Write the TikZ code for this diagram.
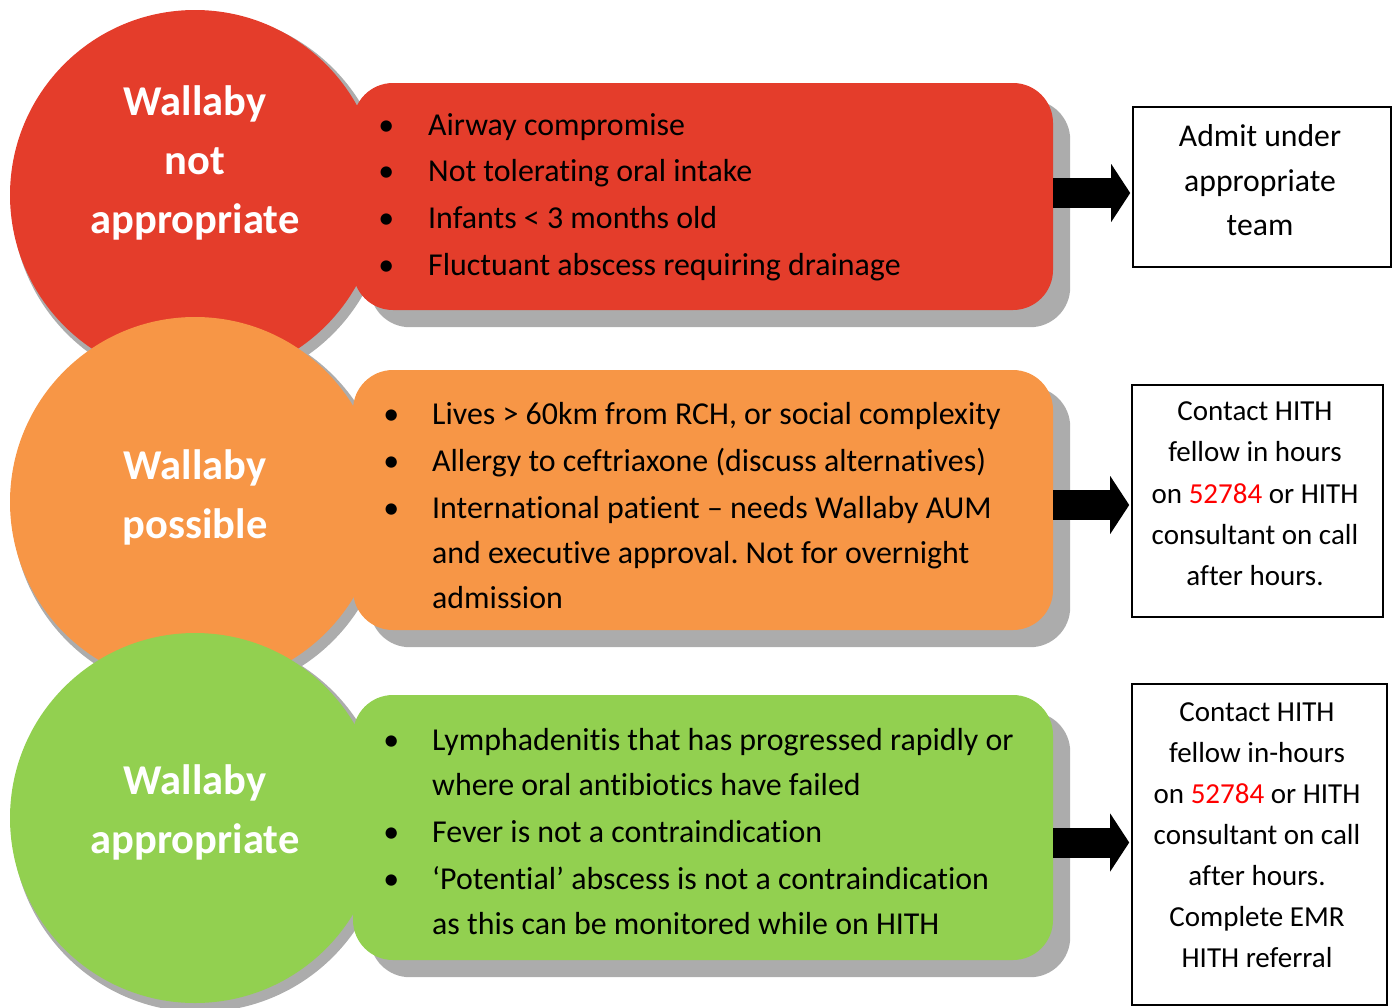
\documentclass[tikz,border=0pt]{standalone}
\usepackage{fontspec}
\setmainfont{Carlito}[Ligatures=NoCommon]
\frenchspacing
\usetikzlibrary{arrows.meta,backgrounds}
\definecolor{cred}{HTML}{E43D2B}
\definecolor{corange}{HTML}{F79646}
\definecolor{cgreen}{HTML}{92D050}
\definecolor{cshadow}{HTML}{ACACAC}
\definecolor{numred}{HTML}{FF0000}
\newcommand{\bulitem}[1]{\makebox[#1]{•}}
\begin{document}
\begin{tikzpicture}[x=1pt,y=-1pt,
  disc/.style={circle, inner sep=0pt, minimum size=370pt},
  panel/.style={rectangle, rounded corners=40pt, inner sep=0pt, minimum width=700pt},
  outbox/.style={draw=black, line width=1.6pt, inner sep=0pt},
  shad/.style={fill=cshadow},
  ttl/.style={inner sep=0pt, anchor=north, text=white, font=\fontsize{42.5}{59}\selectfont\bfseries},
  boxtxt/.style={inner sep=0pt, anchor=north},
  listtxt/.style={inner sep=0pt, anchor=north west, font=\fontsize{31.9}{45}\selectfont},
  bigarrow/.style={line width=30pt, -{Triangle[length=19pt,width=58pt,line width=0pt]}, shorten >=2pt}
]
\useasboundingbox (0,0) rectangle (1394,1007);

% circles and panels
\node[disc, fill=cred] (rc) at (195,195) {};
\node[panel, fill=cred, minimum height=227pt] (rp) at (703,196.5) {};
\node[disc, fill=corange] (oc) at (195,502) {};
\node[panel, fill=corange, minimum height=260pt] (op) at (703,500) {};
\node[disc, fill=cgreen] (gc) at (195,818) {};
\node[panel, fill=cgreen, minimum height=265pt] (gp) at (703,827.5) {};

\begin{scope}[on background layer]
  \foreach \c in {rc,oc,gc}
    \fill[shad] ([shift={(5,6)}]\c.center) circle[radius=188pt];
  \foreach \p in {rp,op,gp}
    \fill[shad, rounded corners=40pt] ([shift={(17,17)}]\p.north west) rectangle ([shift={(17,17)}]\p.south east);
\end{scope}

% titles
\node[ttl] (rt) at (195,73.7) {\begin{tabular}{@{}c@{}}Wallaby\\ not\\ appropriate\end{tabular}};
\node[ttl] (ot) at (195,437.7) {\begin{tabular}{@{}c@{}}Wallaby\\ possible\end{tabular}};
\node[ttl] (gt) at (195,752.7) {\begin{tabular}{@{}c@{}}Wallaby\\ appropriate\end{tabular}};

% lists
\node[listtxt] (rl) at (344,103.5) {\begin{tabular}{@{}c@{}l@{}}
\bulitem{84pt} & Airway compromise\\[1.7pt]
\bulitem{84pt} & Not tolerating oral intake\\[1.7pt]
\bulitem{84pt} & Infants < 3 months old\\[1.7pt]
\bulitem{84pt} & Fluctuant abscess requiring drainage
\end{tabular}};
\node[listtxt] (ol) at (350,392.5) {\begin{tabular}{@{}c@{}l@{}}
\bulitem{82pt} & Lives > 60km from RCH, or social complexity\\[2pt]
\bulitem{82pt} & Allergy to ceftriaxone (discuss alternatives)\\[2pt]
\bulitem{82pt} & International patient – needs Wallaby AUM\\
 & and executive approval. Not for overnight\\
 & admission
\end{tabular}};
\node[listtxt] (gl) at (350,718.5) {\begin{tabular}{@{}c@{}l@{}}
\bulitem{82pt} & Lymphadenitis that has progressed rapidly or\\
 & where oral antibiotics have failed\\[2pt]
\bulitem{82pt} & Fever is not a contraindication\\[2pt]
\bulitem{82pt} & ‘Potential’ abscess is not a contraindication\\
 & as this can be monitored while on HITH
\end{tabular}};

% outcome boxes
\node[outbox, minimum width=258pt, minimum height=160pt] (b1) at (1262,187) {};
\node[outbox, minimum width=251pt, minimum height=232pt] (b2) at (1257.5,501) {};
\node[outbox, minimum width=255pt, minimum height=321pt] (b3) at (1259.5,844.5) {};

\node[boxtxt, font=\fontsize{31.7}{44.2}\selectfont] (b1t) at (1260,115.8) {\begin{tabular}{@{}c@{}}Admit under\\ appropriate\\ team\end{tabular}};
\node[boxtxt, font=\fontsize{29}{41.1}\selectfont] (b2t) at (1255,391.9) {\begin{tabular}{@{}c@{}}Contact HITH\\ fellow in hours\\ on \textcolor{numred}{52784} or HITH\\ consultant on call\\ after hours.\end{tabular}};
\node[boxtxt, font=\fontsize{29}{40.9}\selectfont] (b3t) at (1257,693.1) {\begin{tabular}{@{}c@{}}Contact HITH\\ fellow in-hours\\ on \textcolor{numred}{52784} or HITH\\ consultant on call\\ after hours.\\ Complete EMR\\ HITH referral\end{tabular}};

% arrows
\coordinate (a1) at (1100,193);
\coordinate (a2) at (1100,505);
\coordinate (a3) at (1100,842.5);
\draw[bigarrow] (rp.east |- a1) -- (b1.west |- a1);
\draw[bigarrow] (op.east |- a2) -- (b2.west |- a2);
\draw[bigarrow] (gp.east |- a3) -- (b3.west |- a3);
\end{tikzpicture}
\end{document}
